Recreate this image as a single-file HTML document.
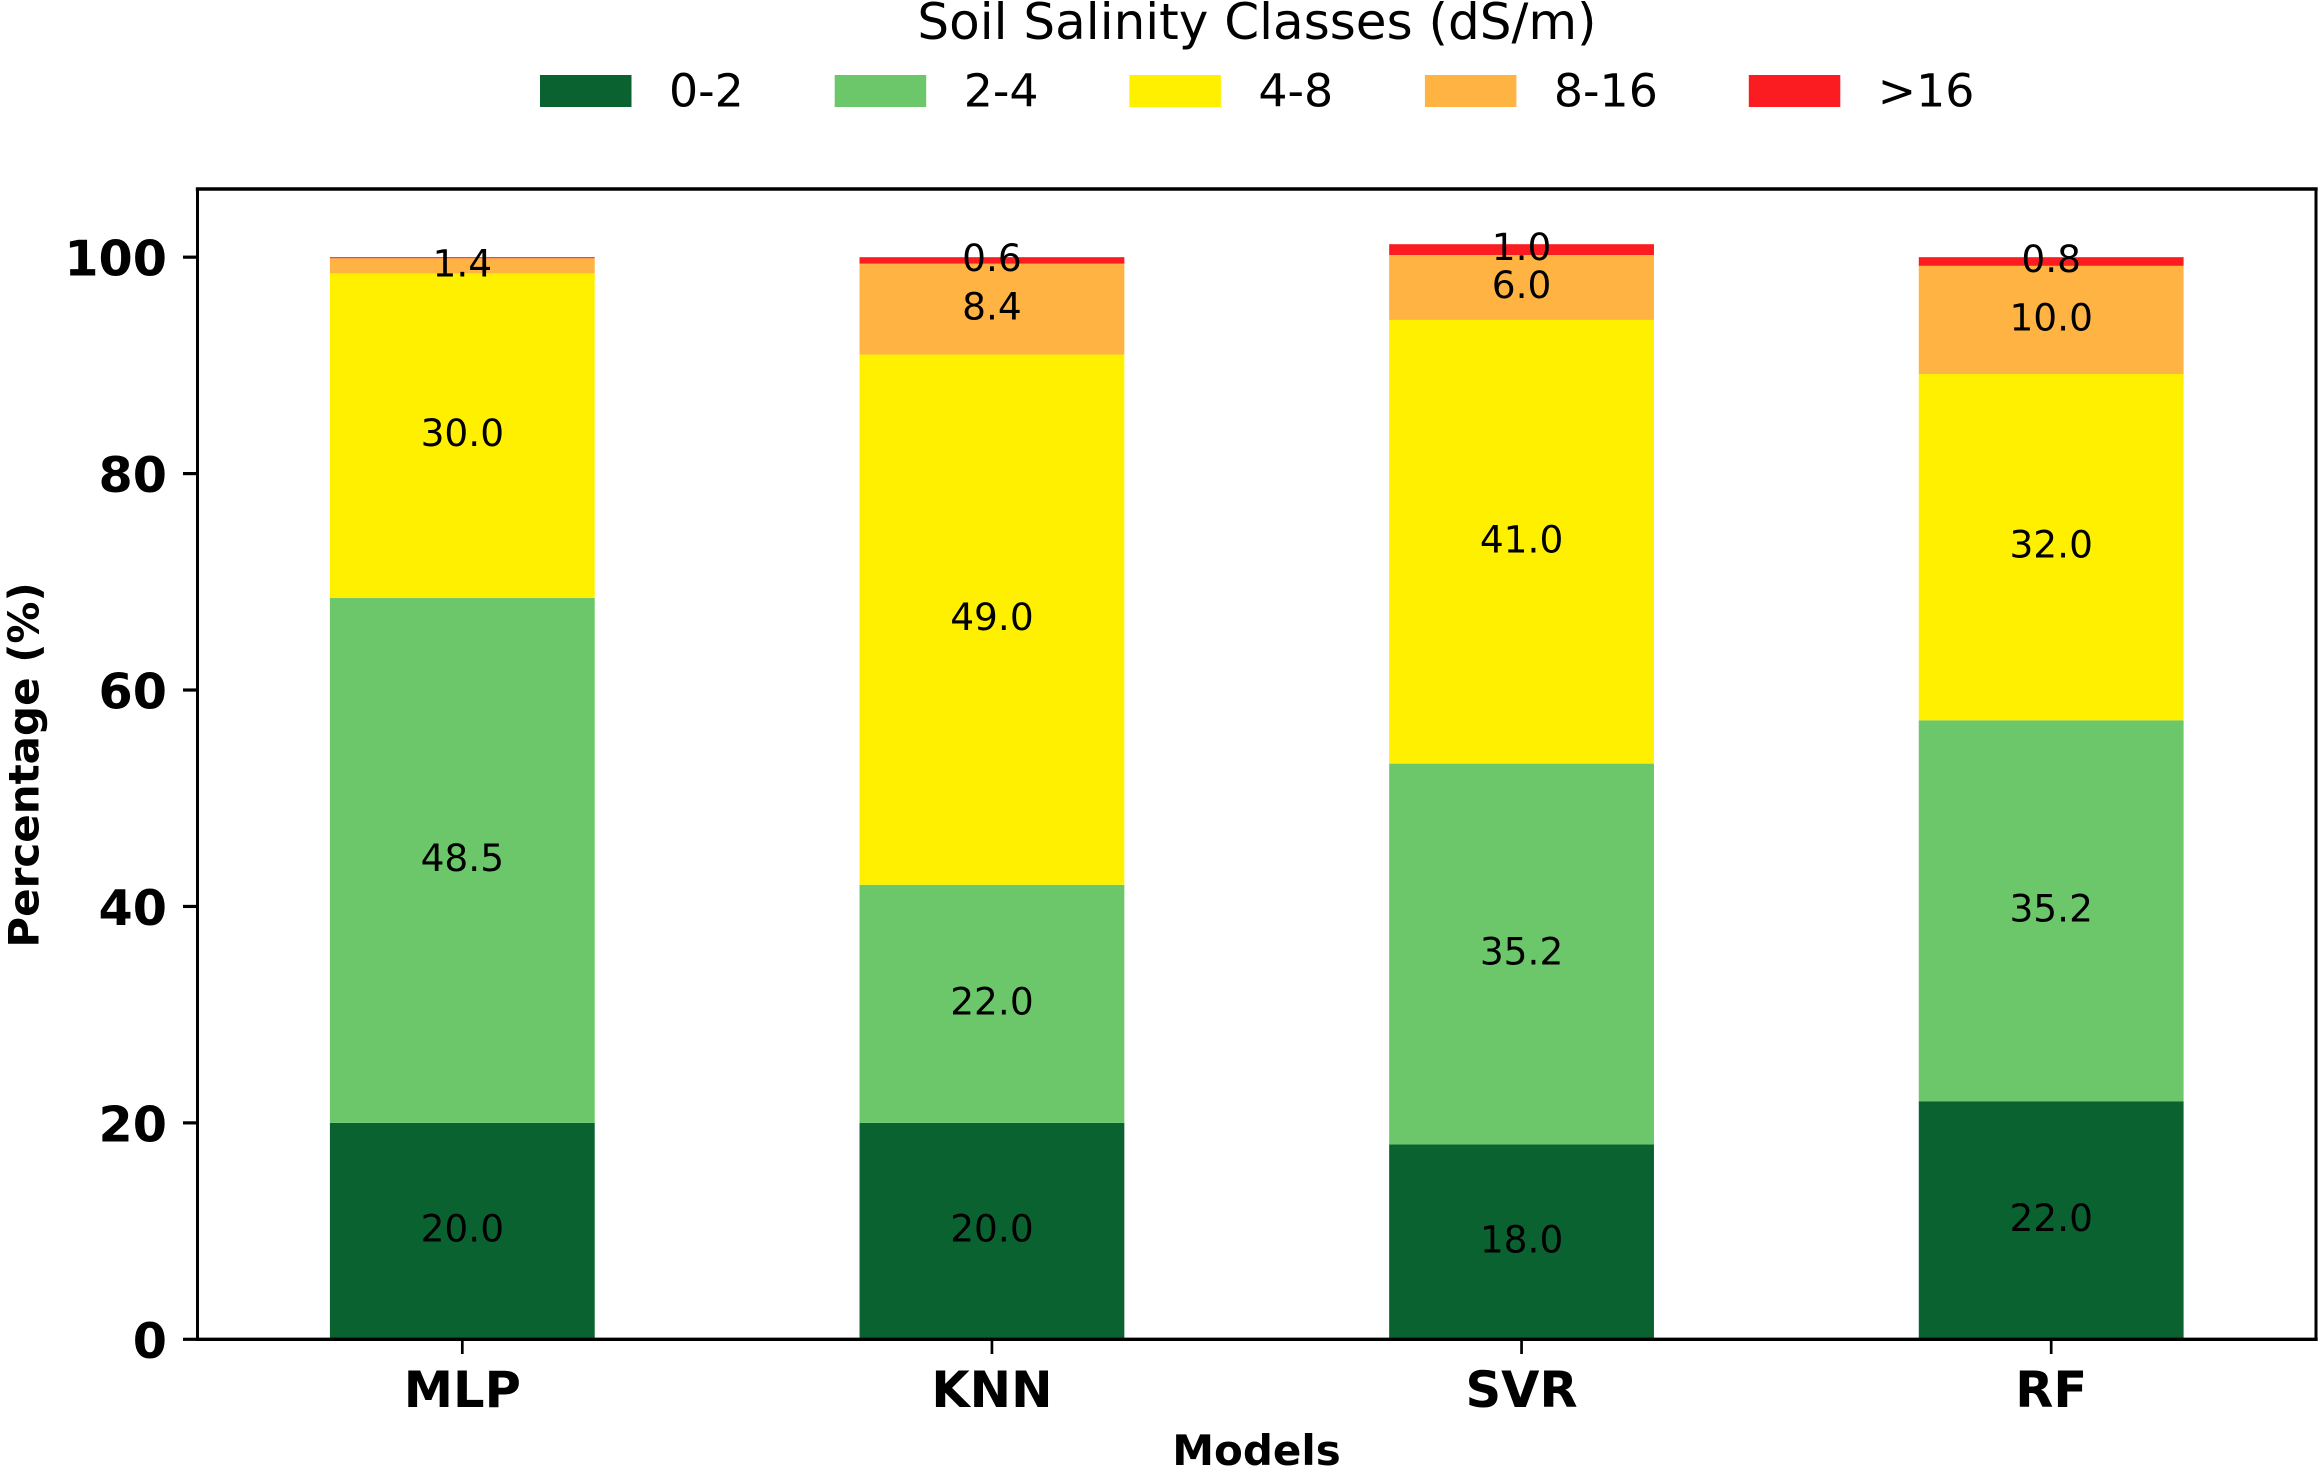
<!DOCTYPE html>
<html lang="en">
<head>
<meta charset="utf-8">
<title>Soil Salinity Classes by Model</title>
<style>
html,body{margin:0;padding:0;background:#fff;}
svg{display:block;font-family:"DejaVu Sans","Liberation Sans",sans-serif;}
</style>
</head>
<body>
<svg id="chart" xmlns="http://www.w3.org/2000/svg" width="2320" height="1472" viewBox="0 0 2320 1472">
<rect x="0" y="0" width="2320" height="1472" fill="#ffffff"/>
<g id="bars"></g>
<g id="values"></g>
<g id="axes"></g>
<g id="legend"></g>
<text x="1256.5" y="1465" text-anchor="middle" font-size="42" font-weight="700" fill="#000">Models</text>
<text transform="translate(38.5 765) rotate(-90)" text-anchor="middle" font-size="42" font-weight="700" fill="#000">Percentage (%)</text>
<text x="1257" y="39" text-anchor="middle" font-size="50" fill="#000">Soil Salinity Classes (dS/m)</text>
</svg>
<script>
const models = ["MLP", "KNN", "SVR", "RF"];
const classes = ["0-2", "2-4", "4-8", "8-16", ">16"];
const colors = ["#0b6231", "#6bc76a", "#fff000", "#ffb343", "#fb1c21"];
const class0to2 = [20.0, 20.0, 18.0, 22.0];
const class2to4 = [48.5, 22.0, 35.2, 35.2];
const class4to8 = [30.0, 49.0, 41.0, 32.0];
const class8to16 = [1.4, 8.4, 6.0, 10.0];
const classOver16 = [0.1, 0.6, 1.0, 0.8];
const yTicks = [0, 20, 40, 60, 80, 100];
const labelThreshold = 0.5;

const series = [class0to2, class2to4, class4to8, class8to16, classOver16];
const NS = "http://www.w3.org/2000/svg";
const plot = { left: 197.5, right: 2316, top: 189, bottom: 1339.3 };
const yMax = 106.3;
const xMin = -0.5, xMax = 3.5;
const barWidthUnits = 0.5;

function xScale(v) { return plot.left + (v - xMin) / (xMax - xMin) * (plot.right - plot.left); }
function yScale(v) { return plot.bottom - v / yMax * (plot.bottom - plot.top); }
function mk(tag, attrs, parent, text) {
  const el = document.createElementNS(NS, tag);
  for (const k in attrs) el.setAttribute(k, attrs[k]);
  if (text !== undefined) el.textContent = text;
  parent.appendChild(el);
  return el;
}

const barsG = document.getElementById("bars");
const valuesG = document.getElementById("values");
const axesG = document.getElementById("axes");
const legendG = document.getElementById("legend");

models.forEach(function (model, i) {
  let base = 0;
  const x0 = xScale(i - barWidthUnits / 2);
  const x1 = xScale(i + barWidthUnits / 2);
  series.forEach(function (vals, s) {
    const v = vals[i];
    const yTop = yScale(base + v);
    const yBot = yScale(base);
    const rect = mk("rect", { x: x0, y: yTop, width: x1 - x0, height: yBot - yTop, fill: colors[s] }, barsG);
    
    
    if (v >= labelThreshold) {
      const t = mk("text", { x: xScale(i), y: yScale(base + v / 2) + 10.5, "text-anchor": "middle", "font-size": 37.5, fill: "#000" }, valuesG, v.toFixed(1));
      
      
    }
    base += v;
  });
});

const frame = [
  ["spine-left", plot.left, plot.top, plot.left, plot.bottom, 3],
  ["spine-right", plot.right, plot.top, plot.right, plot.bottom, 3],
  ["spine-top", plot.left, plot.top, plot.right, plot.top, 3.4],
  ["spine-bottom", plot.left, plot.bottom, plot.right, plot.bottom, 3.4]
];
frame.forEach(function (f) {
  const l = mk("line", { x1: f[1], y1: f[2], x2: f[3], y2: f[4], stroke: "#000", "stroke-width": f[5], "stroke-linecap": "square" }, axesG);
  
  
});

yTicks.forEach(function (tick) {
  const y = yScale(tick);
  const l = mk("line", { x1: 183, y1: y, x2: plot.left, y2: y, stroke: "#000", "stroke-width": 3.2 }, axesG);
  
  
  const t = mk("text", { x: 167, y: y + 18.5, "text-anchor": "end", "font-size": 49.2, "font-weight": 700, fill: "#000" }, axesG, String(tick));
  
  
});

models.forEach(function (model, i) {
  const x = xScale(i);
  const l = mk("line", { x1: x, y1: plot.bottom, x2: x, y2: 1354, stroke: "#000", "stroke-width": 2.7 }, axesG);
  
  
  const t = mk("text", { x: x, y: 1407, "text-anchor": "middle", "font-size": 49.5, "font-weight": 700, fill: "#000" }, axesG, model);
  
  
});

classes.forEach(function (name, s) {
  const step = 294.7;
  const sx = 540 + s * step + (s === 4 ? 30 : 0) + (s === 3 ? 0.8 : 0);
  const r = mk("rect", { x: sx, y: 75, width: 91.5, height: 32, fill: colors[s] }, legendG);
  
  
  const t = mk("text", { x: sx + 129, y: 106.5, "font-size": 45.8, fill: "#000" }, legendG, name);
  
  
});
</script>
</body>
</html>
